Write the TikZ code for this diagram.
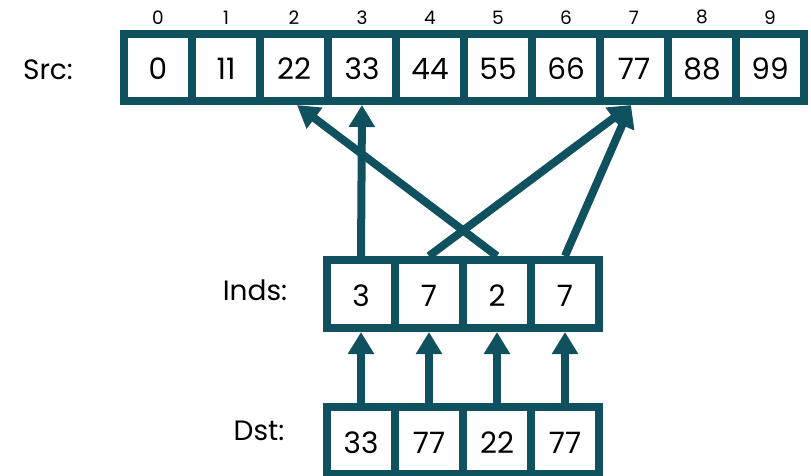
\documentclass[tikz,border=0pt]{standalone}
\usepackage{fontspec}
\setmainfont{Poppins}
\usetikzlibrary{arrows.meta}
\definecolor{teal1}{HTML}{10515F}
\tikzset{
  cell/.style={draw=teal1, line width=8pt, fill=white, rectangle, inner sep=0pt,
    minimum width=68pt, minimum height=67pt, font=\fontsize{29.5}{31}\selectfont,
    text height=25pt, text depth=0pt},
  idx/.style={font=\fontsize{18.5}{20}\selectfont, inner sep=0pt},
  lab/.style={font=\fontsize{28}{30}\selectfont, inner sep=0pt},
  conn/.style={draw=teal1, line width=8pt, -{Triangle[width=25pt,length=22pt]}}
}
\begin{document}
\begin{tikzpicture}[x=1pt,y=-1pt]
\useasboundingbox (0,0) rectangle (811,476);
% Src
\foreach \v [count=\i from 0] in {0,11,22,33,44,55,66,77,88,99} {
  \node[cell] (s\i) at (158+68*\i,67.5) {\v};
}
\foreach \i in {0,...,9} {
  \node[idx, anchor=south] (l\i) at ([yshift=5.5pt]s\i.north) {\i};
}
\node[lab] (srclab) at (48,70) {Src:};
% Inds
\foreach \v [count=\i from 0] in {3,7,2,7} {
  \node[cell, minimum height=68pt] (i\i) at (361+68*\i,294) {\v};
}
\node[lab] (indlab) at (255,290) {Inds:};
% Dst
\foreach \v [count=\i from 0] in {33,77,22,77} {
  \node[cell] (d\i) at (361+68*\i,440.5) {\v};
}
\node[lab] (dstlab) at (259,431) {Dst:};
% arrows Dst -> Inds
\foreach \i in {0,...,3} {
  \draw[conn] (d\i.north) -- (i\i.south);
}
% arrows Inds -> Src
\draw[conn] (i0.north) -- (s3.south);
\draw[conn] (i1.north) -- ([xshift=-3pt]s7.south);
\draw[conn] (i2.north) -- ([xshift=3pt]s2.south);
\draw[conn] (i3.north) -- ([xshift=-3pt]s7.south);
\end{tikzpicture}
\end{document}
